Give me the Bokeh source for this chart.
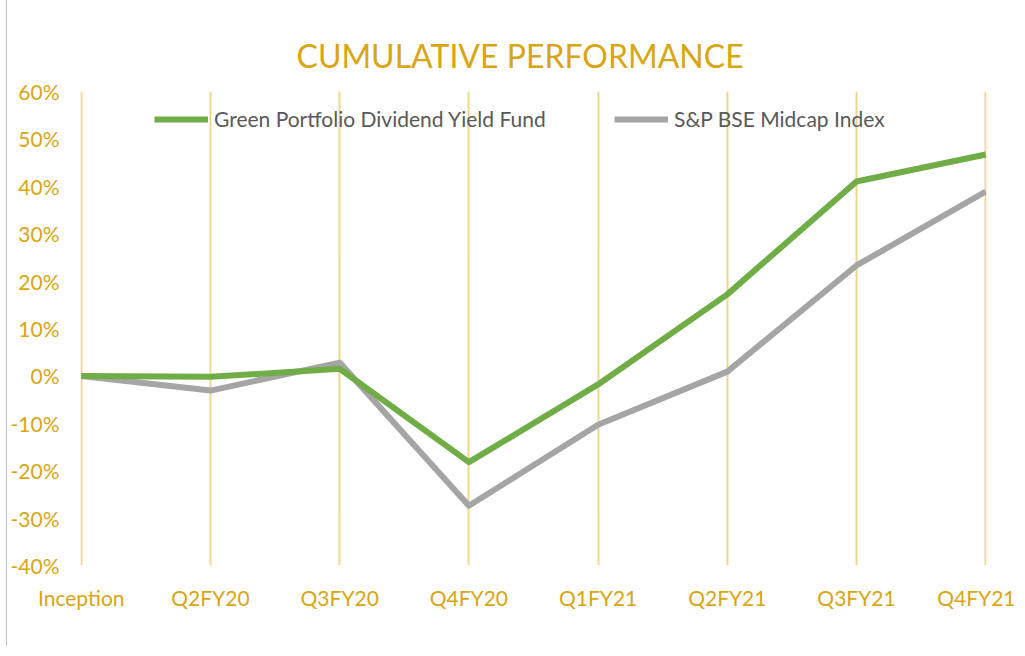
from bokeh.plotting import figure
from bokeh.models import FixedTicker, PrintfTickFormatter, Range1d, Legend, LegendItem
from bokeh.embed import file_html
from bokeh.resources import INLINE

categories = ["Inception", "Q2FY20", "Q3FY20", "Q4FY20", "Q1FY21", "Q2FY21", "Q3FY21", "Q4FY21"]
fund = [0.0, -0.2, 1.5, -18.2, -1.8, 17.2, 41.0, 46.7]
index = [0.0, -3.1, 2.8, -27.4, -10.3, 0.9, 23.3, 38.9]
y_ticks = [-40, -30, -20, -10, 0, 10, 20, 30, 40, 50, 60]

GOLD = "#D9A514"
FONT = "Lato"
xs = list(range(len(categories)))

p = figure(width=1009, height=646, output_backend="svg", toolbar_location=None,
           x_range=Range1d(-0.006, len(categories) - 1 + 0.006), y_range=Range1d(-40, 60),
           min_border_left=70, min_border_right=30, min_border_top=91, min_border_bottom=81)
p.outline_line_color = None
p.background_fill_color = "white"
p.border_fill_color = "white"
p.styles = {"border-left": "1px solid #BFBFBF", "margin-left": "6px"}

p.title.text = "CUMULATIVE PERFORMANCE"
p.title.align = "left"
p.title.offset = 216
p.title.text_font = FONT
p.title.text_font_size = "32px"
p.title.text_font_style = "normal"
p.title.text_color = GOLD
p.title.standoff = 33

p.xaxis.ticker = FixedTicker(ticks=xs)
p.xaxis.major_label_overrides = {i: c for i, c in enumerate(categories)}
p.yaxis.ticker = FixedTicker(ticks=y_ticks)
p.yaxis.formatter = PrintfTickFormatter(format="%d%%")
for ax in (p.xaxis, p.yaxis):
    ax.axis_line_color = None
    ax.major_tick_line_color = None
    ax.minor_tick_line_color = None
    ax.major_tick_out = 0
    ax.major_tick_in = 0
    ax.minor_tick_out = 0
    ax.major_label_text_color = GOLD
    ax.major_label_text_font = FONT
    ax.major_label_text_font_size = "21px"
p.yaxis.major_label_standoff = 21
p.xaxis.major_label_standoff = 19

p.ygrid.grid_line_color = None
p.xgrid.ticker = FixedTicker(ticks=xs)
p.xgrid.grid_line_color = "#F0D68A"
p.xgrid.grid_line_width = 2

r1 = p.line(xs, fund, line_color="#70AD47", line_width=6, line_join="round")
r2 = p.line(xs, index, line_color="#A5A5A5", line_width=6, line_join="round")
p.renderers.remove(r1)
p.renderers.append(r1)

for r, label, loc in ((r1, "Green Portfolio Dividend Yield Fund", (74, 434)),
                      (r2, "S&P BSE Midcap Index", (534, 434))):
    lg = Legend(items=[LegendItem(label=label, renderers=[r])], location=loc,
                orientation="horizontal", background_fill_alpha=0, border_line_color=None,
                padding=0, margin=0, glyph_width=54, glyph_height=24, label_height=24,
                label_standoff=6, label_text_font=FONT, label_text_font_size="21px",
                label_text_color="#595959")
    p.add_layout(lg, "center")

open("out.html", "w").write(file_html(p, INLINE))
